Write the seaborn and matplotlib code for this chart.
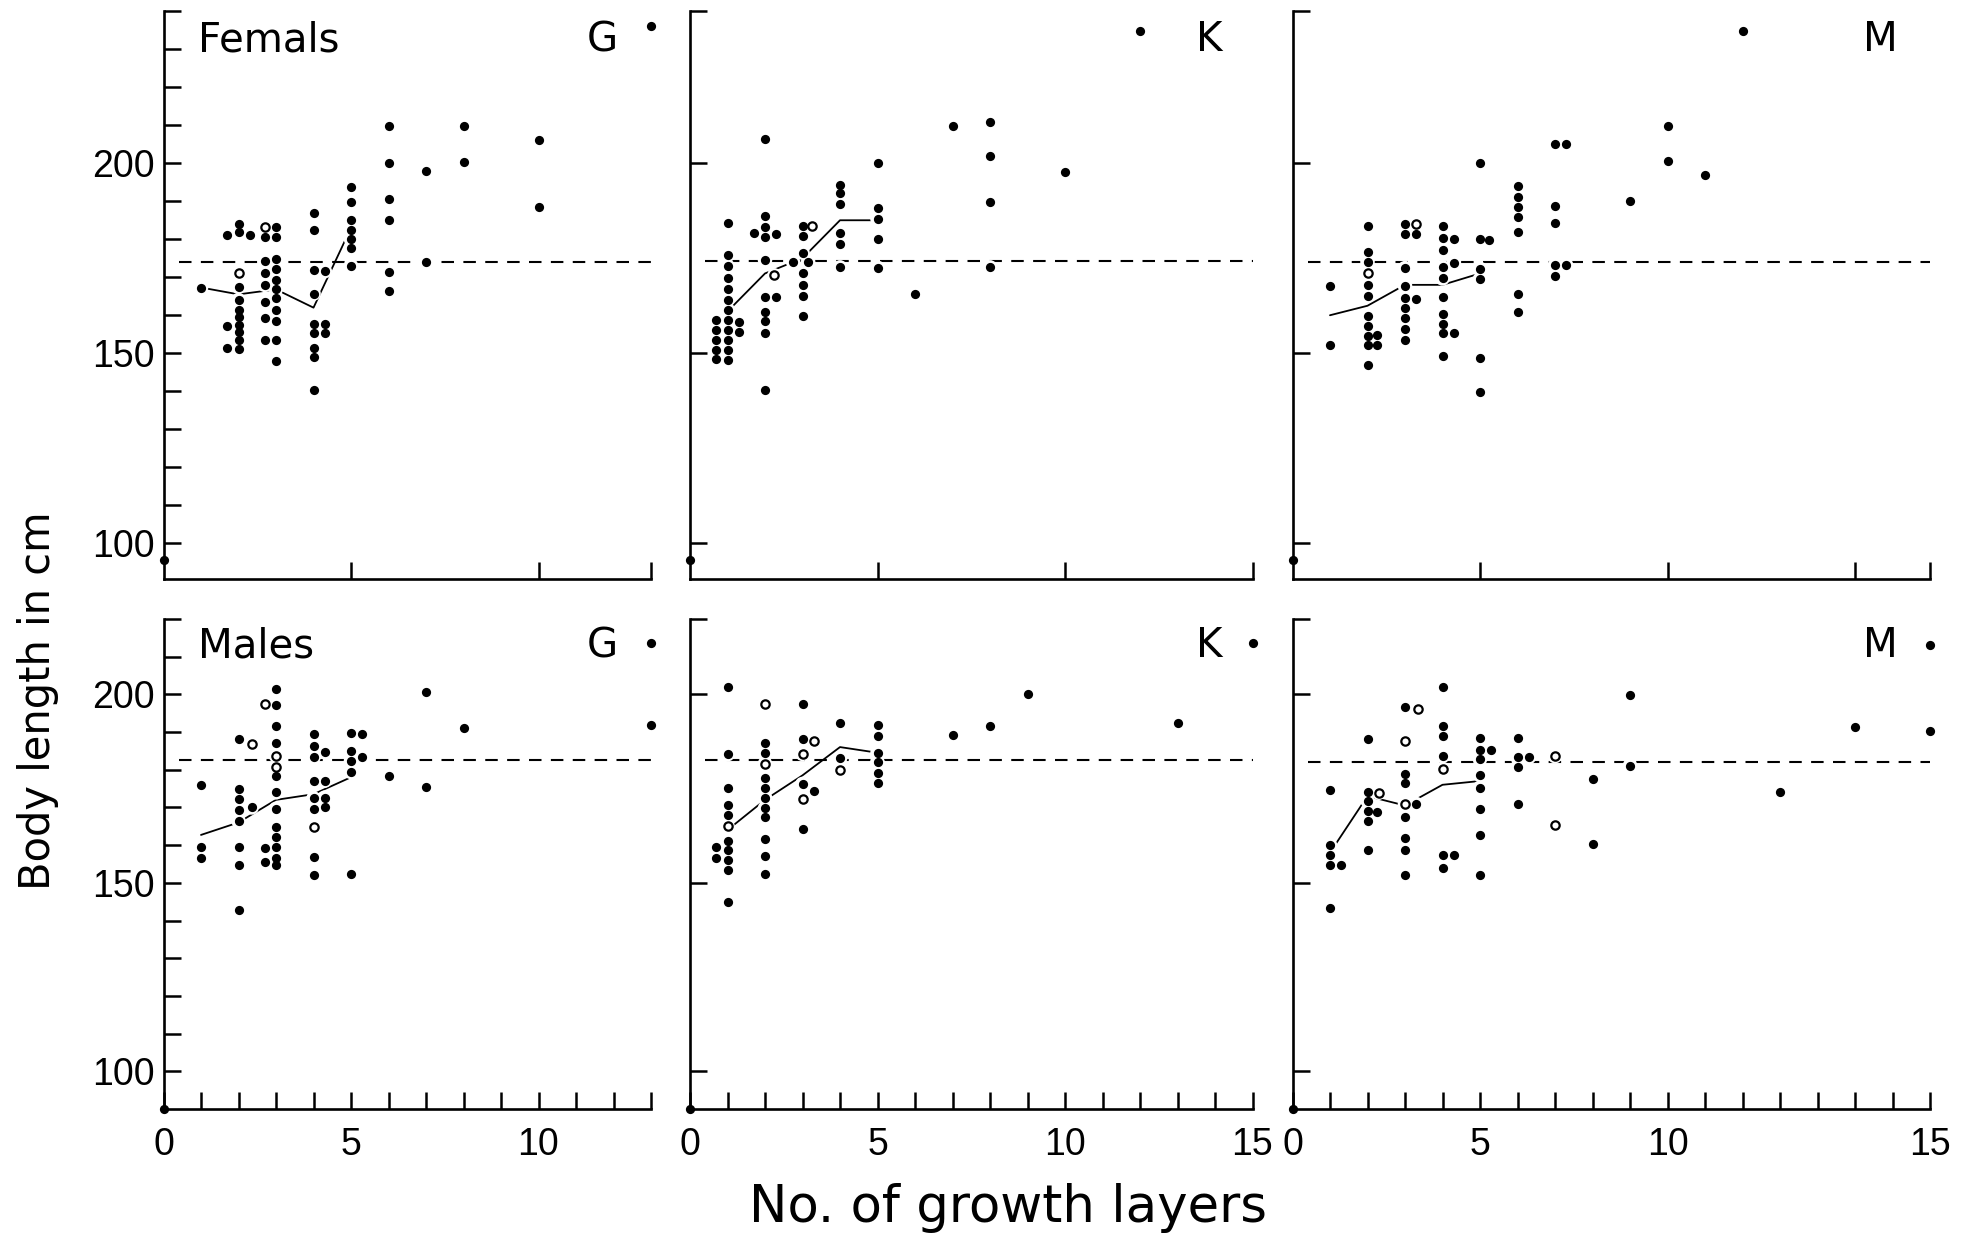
import matplotlib
matplotlib.use("Agg")
import matplotlib.pyplot as plt
import seaborn as sns
import numpy as np
from matplotlib import font_manager

# ---------------- data ----------------
# Females, G
FG_fill_x = [1, 1.7, 1.7, 1.7, 2, 2, 2, 2, 2, 2, 2, 2, 2, 2, 2.3,
             2.7, 2.7, 2.7, 2.7, 2.7, 2.7, 2.7,
             3, 3, 3, 3, 3, 3, 3, 3, 3, 3, 3,
             4, 4, 4, 4, 4, 4, 4, 4, 4, 4.3, 4.3, 4.3,
             5, 5, 5, 5, 5, 5, 5, 6, 6, 6, 6, 6, 6, 7, 7, 8, 8, 10, 10, 13]
FG_fill_y = [167.3, 181, 157.3, 151.5, 184, 182, 167.5, 164, 161.5, 159.5, 157.5, 155.5, 153.5, 151, 181,
             180.6, 174.3, 171, 168, 163.6, 159.4, 153.6,
             183.3, 180.6, 174.8, 172.3, 169.4, 167, 164.6, 161.4, 158.4, 153.6, 148,
             186.9, 182.5, 171.8, 165.7, 157.8, 155.3, 151.5, 149, 140.3, 171.6, 157.8, 155.3,
             193.7, 189.8, 185, 182.5, 180, 177.8, 173, 209.7, 200.2, 190.6, 185, 171.4, 166.5,
             198, 174, 209.7, 200.3, 206, 188.6, 236]
FG_open_x = [2, 2.7]
FG_open_y = [171, 183.3]
FG_mean_x = [1, 2, 3, 4, 5]
FG_mean_y = [167.3, 165.5, 166.8, 162, 183]
FG_ref = 174

# Females, K
FK_fill_x = [12, 7, 8, 8, 8, 8, 10, 6, 5, 5, 5, 5, 5, 4, 4, 4, 4, 4, 4,
             1, 1, 1, 1, 1, 1, 1, 1, 1, 1, 1, 1,
             0.7, 0.7, 0.7, 0.7, 0.7, 1.3, 1.3,
             2, 2, 2, 2, 2, 2, 2, 2, 2, 2, 1.7, 2.3, 2.3,
             3, 3, 3, 3, 3, 3, 3, 2.75, 3.15]
FK_fill_y = [234.7, 209.8, 210.8, 201.8, 189.7, 172.6, 197.8, 165.5,
             200, 188.3, 185.4, 180, 172.5, 194.4, 192.2, 189.4, 181.6, 178.8, 172.6,
             184.4, 175.8, 172.9, 169.8, 167, 164.1, 161.5, 158.8, 156.1, 153.6, 150.9, 148.3,
             158.8, 156.1, 153.6, 150.9, 148.4, 158.2, 155.7,
             206.4, 186.1, 183.2, 180.7, 174.6, 164.8, 160.9, 158.4, 155.2, 140.3, 181.7, 181.4, 164.8,
             183.6, 180.9, 176.5, 171.2, 167.9, 165.1, 159.9, 174, 174]
FK_open_x = [2.25, 3.25]
FK_open_y = [170.5, 183.4]
FK_mean_x = [1, 2, 3, 4, 5]
FK_mean_y = [161, 171, 175, 185, 185]
FK_ref = 174.3

# Females, M
FM_fill_x = [12, 10, 10, 11, 9, 7, 7.3, 7, 7, 7, 7.3, 7,
             6, 6, 6, 6, 6, 6, 6, 5, 5, 5.25, 5, 5, 5, 5,
             4, 4, 4, 4, 4, 4, 4, 4, 4, 4, 4.3, 4.3, 4.3,
             3, 3, 3, 3, 3, 3, 3, 3, 3, 3.3, 3.3,
             2, 2, 2, 2, 2, 2, 2, 2, 2, 2, 2.25, 2.25, 1, 1]
FM_fill_y = [234.7, 209.7, 200.7, 197, 190.2, 205.2, 205.2, 188.7, 184.3, 173.1, 173.1, 170.2,
             194, 191.1, 188.5, 185.8, 181.9, 165.5, 160.8, 200.2, 180, 179.7, 172.2, 169.5, 148.7, 139.9,
             183.4, 180.4, 177.3, 172.6, 169.7, 164.9, 160.4, 157.8, 155.2, 149.3, 180.2, 173.7, 155.4,
             184.1, 181.4, 172.4, 167.7, 164.6, 161.9, 159.3, 156.4, 153.4, 181.4, 164.3,
             183.6, 176.7, 174.1, 167.9, 165.1, 159.9, 157.2, 154.5, 152.1, 147, 154.7, 152.1, 167.7, 152.1]
FM_open_x = [2, 3.3]
FM_open_y = [171, 184]
FM_mean_x = [1, 2, 3, 4, 5]
FM_mean_y = [160, 162.5, 168, 168, 171]
FM_ref = 174

# Males, G
MG_fill_x = [13, 13, 7, 7, 8, 6, 5, 5, 5, 5, 5, 5.3, 5.3,
             4, 4, 4, 4, 4, 4, 4, 4, 4.3, 4.3, 4.3, 4.3,
             3, 3, 3, 3, 3, 3, 3, 3, 3, 3, 3, 3, 2.7, 2.7,
             2, 2, 2, 2, 2, 2, 2, 2, 2.35, 1, 1, 1]
MG_fill_y = [213.5, 191.8, 200.5, 175.4, 191, 178.4, 189.8, 184.9, 182.3, 179.4, 152.3, 189.6, 183.3,
             189.4, 186.3, 183.3, 177.1, 172.4, 169.6, 156.8, 152.2, 184.7, 177.1, 172.6, 170.1,
             201.4, 197.2, 191.5, 187.1, 178.3, 174, 169.6, 164.8, 162.2, 159.4, 156.7, 154.6, 159.2, 155.6,
             188.2, 175, 172.1, 169.3, 166.4, 159.4, 154.6, 142.8, 170, 175.9, 159.4, 156.5]
MG_open_x = [4, 3, 3, 2.7, 2.35]
MG_open_y = [164.8, 183.7, 180.6, 197.4, 186.8]
MG_mean_x = [1, 2, 3, 4, 5]
MG_mean_y = [162.7, 166, 172, 173.5, 178]
MG_ref = 182.5

# Males, K
MK_fill_x = [15, 9, 13, 8, 7, 1, 1, 1, 1, 1, 1, 1, 1, 1, 1, 0.7, 0.7,
             2, 2, 2, 2, 2, 2, 2, 2, 2, 2, 3, 3, 3, 3, 3.3, 4, 4, 5, 5, 5, 5, 5, 5]
MK_fill_y = [213.7, 200.2, 192.4, 191.5, 189.1,
             201.9, 184.1, 175.2, 170.6, 167.9, 161.2, 158.6, 156.1, 153.3, 144.8, 159.6, 156.7,
             187.2, 184.4, 177.8, 175.2, 172.6, 169.8, 167.4, 161.7, 157.2, 152.3,
             197.4, 188.2, 176.2, 164.2, 174.4, 192.5, 183, 191.8, 188.9, 184.4, 182, 179.2, 176.6]
MK_open_x = [1, 2, 2, 3.3, 3, 3, 4]
MK_open_y = [165, 197.4, 181.6, 187.7, 184.2, 172.3, 179.9]
MK_mean_x = [1, 2, 3, 4, 5]
MK_mean_y = [164, 172, 178.5, 186, 184.5]
MK_ref = 182.7

# Males, M
MM_fill_x = [17, 17, 15, 9, 9, 13, 8, 8, 6, 6, 6, 6, 6.3,
             5, 5, 5, 5, 5, 5, 5, 5, 5.3, 4, 4, 4, 4, 4, 4, 4.3,
             3, 3, 3, 3, 3, 3, 3, 3.3, 2, 2, 2, 2, 2, 2, 2.25, 1, 1, 1, 1, 1, 1.3]
MM_fill_y = [213.1, 190.2, 191.2, 199.8, 181.1, 174.2, 177.6, 160.3, 188.3, 183.3, 180.7, 171, 183.3,
             188.5, 185.2, 182.8, 178.6, 175.2, 169.6, 162.8, 152, 185.2,
             201.9, 191.5, 188.9, 183.6, 157.4, 154, 157.4,
             196.7, 178.9, 176.4, 167.5, 161.8, 158.8, 152, 170.9,
             188.1, 174.2, 171.8, 169, 166.4, 158.8, 168.7, 174.5, 160, 157.4, 154.6, 143.3, 154.6]
MM_open_x = [7, 7, 4, 3, 3.35, 3, 2.3]
MM_open_y = [183.6, 165.2, 180.2, 187.5, 196, 170.9, 173.9]
MM_mean_x = [1, 2, 3, 4, 5]
MM_mean_y = [158, 173, 170.5, 176, 177]
MM_ref = 182

# axes settings
row_names = ["Femals", "Males"]
col_names = ["G", "K", "M"]
x_max = [13, 15, 17]
row_ylim = [(90.5, 240), (90, 220)]
corner_y = [95.5, 90]
ytick_labeled = [100, 150, 200]
bottom_xtick_pos = [[0, 5, 10], [0, 5, 10, 15], [0, 5, 10, 17]]
bottom_xtick_txt = [["0", "5", "10"], ["0", "5", "10", "15"], ["0", "5", "10", "15"]]
top_xticks = [[5, 10, 13], [5, 10, 15], [5, 10, 15, 17]]

panels = [
    [(FG_fill_x, FG_fill_y, FG_open_x, FG_open_y, FG_mean_x, FG_mean_y, FG_ref),
     (FK_fill_x, FK_fill_y, FK_open_x, FK_open_y, FK_mean_x, FK_mean_y, FK_ref),
     (FM_fill_x, FM_fill_y, FM_open_x, FM_open_y, FM_mean_x, FM_mean_y, FM_ref)],
    [(MG_fill_x, MG_fill_y, MG_open_x, MG_open_y, MG_mean_x, MG_mean_y, MG_ref),
     (MK_fill_x, MK_fill_y, MK_open_x, MK_open_y, MK_mean_x, MK_mean_y, MK_ref),
     (MM_fill_x, MM_fill_y, MM_open_x, MM_open_y, MM_mean_x, MM_mean_y, MM_ref)],
]

# ---------------- style ----------------
sns.set_style("white")
plt.rcParams['font.family'] = ['DejaVu Sans']
names = {f.name for f in font_manager.fontManager.ttflist}
TICK_FONT = next(n for n in ['Liberation Sans Narrow', 'Liberation Sans', 'DejaVu Sans'] if n in names)

W, H = 1963, 1240
fig = plt.figure(figsize=(W / 100, H / 100), dpi=100)
fig.patch.set_facecolor("white")

col_x0 = [163.5, 690, 1292.5]
px_per_unit_x = 37.5
row_top_px = [11.3, 618.9]
row_bot_px = [579.3, 1109]

DOT = 44
OPEN = 36

for r in range(2):
    for c in range(3):
        x0 = col_x0[c] / W
        w = x_max[c] * px_per_unit_x / W
        y0 = 1 - row_bot_px[r] / H
        h = (row_bot_px[r] - row_top_px[r]) / H
        ax = fig.add_axes([x0, y0, w, h])
        fx, fy, ox, oy, mx, my, ref = panels[r][c]
        ylo, yhi = row_ylim[r]

        ax.set_xlim(0, x_max[c])
        ax.set_ylim(ylo, yhi)

        # reference dashed line
        ax.hlines(ref, 0.4, x_max[c], colors="black", linestyles=(0, (6, 4.5)),
                  linewidth=1.5, zorder=1)
        # mean line
        sns.lineplot(x=mx, y=my, ax=ax, color="black", linewidth=1.3,
                     estimator=None, sort=False, zorder=2)
        # white halos to break lines near points
        sns.scatterplot(x=list(fx) + list(ox), y=list(fy) + list(oy), ax=ax, s=110,
                        color="white", edgecolor="none", linewidth=0, zorder=3)
        # filled points
        sns.scatterplot(x=fx, y=fy, ax=ax, s=DOT, color="black", edgecolor="black",
                        linewidth=0, zorder=4, clip_on=False)
        # open points
        sns.scatterplot(x=ox, y=oy, ax=ax, s=OPEN, facecolor="white", edgecolor="black",
                        linewidth=1.6, zorder=4, clip_on=False)
        # corner dot
        sns.scatterplot(x=[0], y=[corner_y[r]], ax=ax, s=DOT, color="black",
                        edgecolor="black", linewidth=0, zorder=5, clip_on=False)

        # spines
        for s in ["top", "right"]:
            ax.spines[s].set_visible(False)
        for s in ["left", "bottom"]:
            ax.spines[s].set_linewidth(1.9)
            ax.spines[s].set_color("black")

        # y ticks
        if c == 0:
            yt = list(range(100, int(yhi) + 1, 10))
            ax.set_yticks(yt)
            ax.set_yticklabels([str(v) if v in ytick_labeled else "" for v in yt])
        else:
            yt = ytick_labeled + [int(yhi)]
            ax.set_yticks(yt)
            ax.set_yticklabels([""] * len(yt))

        # x ticks
        if r == 1:
            xt = list(range(0, x_max[c] + 1))
            ax.set_xticks(xt)
            lab = ["" for _ in xt]
            for p, t in zip(bottom_xtick_pos[c], bottom_xtick_txt[c]):
                lab[p] = t
            ax.set_xticklabels(lab)
        else:
            ax.set_xticks(top_xticks[c])
            ax.set_xticklabels([""] * len(top_xticks[c]))

        ax.tick_params(axis="both", which="major", direction="in", length=12, width=1.8,
                       color="black", bottom=True, left=True, top=False, right=False,
                       labelsize=27, labelcolor="black", labelfontfamily=TICK_FONT)
        ax.tick_params(axis="y", pad=6.5)
        ax.tick_params(axis="x", pad=13)
        ax.set_xlabel("")
        ax.set_ylabel("")
        ax.grid(False)
        ax.set_facecolor("none")

# panel texts
text_y = [40, 646]
for r in range(2):
    fig.text(198 / W, 1 - text_y[r] / H, row_names[r], fontsize=29, ha="left",
             va="center", color="black")
    for c, cx in enumerate([602, 1209, 1880]):
        fig.text(cx / W, 1 - text_y[r] / H, col_names[c], fontsize=29, ha="center",
                 va="center", color="black")

fig.text(37.6 / W, 1 - 701 / H, "Body length in cm", rotation=90, fontsize=30,
         ha="center", va="center", color="black")
fig.text(1008 / W, 1 - 1208 / H, "No. of growth layers", fontsize=37,
         ha="center", va="center", color="black")

fig.savefig("out.png", dpi=100, facecolor="white")
